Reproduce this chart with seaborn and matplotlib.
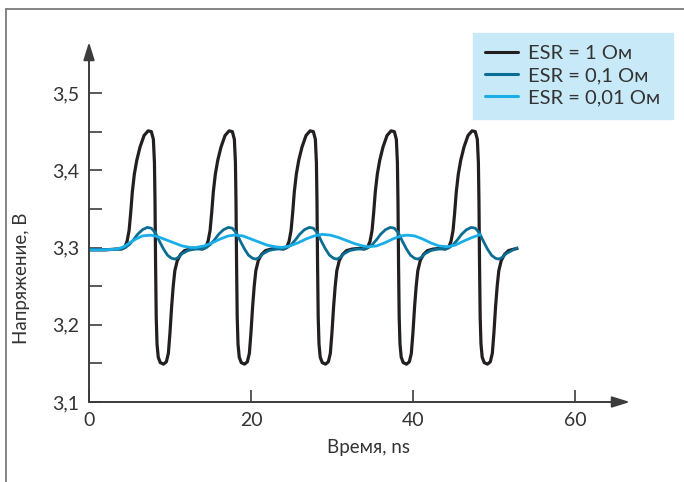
import numpy as np
import pandas as pd
import matplotlib
matplotlib.use("Agg")
import matplotlib.pyplot as plt
import seaborn as sns
from matplotlib.lines import Line2D

# ---------------- data ----------------
labels = ["ESR = 1 Ом", "ESR = 0,1 Ом", "ESR = 0,01 Ом"]
colors = ["#231f20", "#0a6d93", "#1aaee8"]

esr1_t = [0.0, 2.0, 3.5,
          4.0, 4.4, 4.7, 4.95, 5.15, 5.35, 5.6, 5.9, 6.3, 6.8, 7.3, 7.7, 7.95, 8.08, 8.15, 8.22, 8.3, 8.4,
          8.55, 8.8, 9.2, 9.55, 9.8, 10.0, 10.2, 10.4, 10.6, 10.9, 11.3, 11.8, 12.5, 13.5,
          14.0, 14.4, 14.7, 14.95, 15.15, 15.35, 15.6, 15.9, 16.3, 16.8, 17.3, 17.7, 17.95, 18.08, 18.15, 18.22, 18.3, 18.4,
          18.55, 18.8, 19.2, 19.55, 19.8, 20.0, 20.2, 20.4, 20.6, 20.9, 21.3, 21.8, 22.5, 23.5,
          24.0, 24.4, 24.7, 24.95, 25.15, 25.35, 25.6, 25.9, 26.3, 26.8, 27.3, 27.7, 27.95, 28.08, 28.15, 28.22, 28.3, 28.4,
          28.55, 28.8, 29.2, 29.55, 29.8, 30.0, 30.2, 30.4, 30.6, 30.9, 31.3, 31.8, 32.5, 33.5,
          34.0, 34.4, 34.7, 34.95, 35.15, 35.35, 35.6, 35.9, 36.3, 36.8, 37.3, 37.7, 37.95, 38.08, 38.15, 38.22, 38.3, 38.4,
          38.55, 38.8, 39.2, 39.55, 39.8, 40.0, 40.2, 40.4, 40.6, 40.9, 41.3, 41.8, 42.5, 43.5,
          44.0, 44.4, 44.7, 44.95, 45.15, 45.35, 45.6, 45.9, 46.3, 46.8, 47.3, 47.7, 47.95, 48.08, 48.15, 48.22, 48.3, 48.4,
          48.55, 48.8, 49.2, 49.55, 49.8, 50.0, 50.2, 50.4, 50.6, 50.9, 51.3, 51.8, 52.5, 53.0]
esr1_v = [3.297, 3.297, 3.298,
          3.298, 3.300, 3.308, 3.322, 3.345, 3.372, 3.395, 3.413, 3.430, 3.445, 3.451, 3.450, 3.440, 3.410, 3.360, 3.280, 3.210, 3.175,
          3.158, 3.151, 3.149, 3.152, 3.163, 3.190, 3.223, 3.250, 3.270, 3.283, 3.291, 3.296, 3.298, 3.299,
          3.298, 3.300, 3.308, 3.322, 3.345, 3.372, 3.395, 3.413, 3.430, 3.445, 3.451, 3.450, 3.440, 3.410, 3.360, 3.280, 3.210, 3.175,
          3.158, 3.151, 3.149, 3.152, 3.163, 3.190, 3.223, 3.250, 3.270, 3.283, 3.291, 3.296, 3.298, 3.299,
          3.298, 3.300, 3.308, 3.322, 3.345, 3.372, 3.395, 3.413, 3.430, 3.445, 3.451, 3.450, 3.440, 3.410, 3.360, 3.280, 3.210, 3.175,
          3.158, 3.151, 3.149, 3.152, 3.163, 3.190, 3.223, 3.250, 3.270, 3.283, 3.291, 3.296, 3.298, 3.299,
          3.298, 3.300, 3.308, 3.322, 3.345, 3.372, 3.395, 3.413, 3.430, 3.445, 3.451, 3.450, 3.440, 3.410, 3.360, 3.280, 3.210, 3.175,
          3.158, 3.151, 3.149, 3.152, 3.163, 3.190, 3.223, 3.250, 3.270, 3.283, 3.291, 3.296, 3.298, 3.299,
          3.298, 3.300, 3.308, 3.322, 3.345, 3.372, 3.395, 3.413, 3.430, 3.445, 3.451, 3.450, 3.440, 3.410, 3.360, 3.280, 3.210, 3.175,
          3.158, 3.151, 3.149, 3.152, 3.163, 3.190, 3.223, 3.250, 3.270, 3.283, 3.291, 3.296, 3.298, 3.299]

esr01_t = [0.0, 2.0, 3.5,
           4.0, 4.5, 5.0, 5.5, 6.0, 6.6, 7.2, 7.7, 8.2, 8.7, 9.2, 9.7, 10.2, 10.6, 11.0, 11.5, 12.2, 13.0,
           14.0, 14.5, 15.0, 15.5, 16.0, 16.6, 17.2, 17.7, 18.2, 18.7, 19.2, 19.7, 20.2, 20.6, 21.0, 21.5, 22.2, 23.0,
           24.0, 24.5, 25.0, 25.5, 26.0, 26.6, 27.2, 27.7, 28.2, 28.7, 29.2, 29.7, 30.2, 30.6, 31.0, 31.5, 32.2, 33.0,
           34.0, 34.5, 35.0, 35.5, 36.0, 36.6, 37.2, 37.7, 38.2, 38.7, 39.2, 39.7, 40.2, 40.6, 41.0, 41.5, 42.2, 43.0,
           44.0, 44.5, 45.0, 45.5, 46.0, 46.6, 47.2, 47.7, 48.2, 48.7, 49.2, 49.7, 50.2, 50.6, 51.0, 51.5, 52.2, 53.0]
esr01_v = [3.297, 3.297, 3.298,
           3.298, 3.300, 3.304, 3.310, 3.317, 3.323, 3.326, 3.325, 3.319, 3.308, 3.298, 3.290, 3.286, 3.285, 3.287, 3.292, 3.296, 3.298,
           3.298, 3.300, 3.304, 3.310, 3.317, 3.323, 3.326, 3.325, 3.319, 3.308, 3.298, 3.290, 3.286, 3.285, 3.287, 3.292, 3.296, 3.298,
           3.298, 3.300, 3.304, 3.310, 3.317, 3.323, 3.326, 3.325, 3.319, 3.308, 3.298, 3.290, 3.286, 3.285, 3.287, 3.292, 3.296, 3.298,
           3.298, 3.300, 3.304, 3.310, 3.317, 3.323, 3.326, 3.325, 3.319, 3.308, 3.298, 3.290, 3.286, 3.285, 3.287, 3.292, 3.296, 3.298,
           3.298, 3.300, 3.304, 3.310, 3.317, 3.323, 3.326, 3.325, 3.319, 3.308, 3.298, 3.290, 3.286, 3.285, 3.287, 3.292, 3.296, 3.300]

esr001_t = [0.0, 2.0, 3.5, 4.3, 5.0, 5.8, 6.6, 7.6, 8.5, 9.5, 10.5, 11.5, 12.5, 13.2,
            14.2, 15.2, 16.2, 17.2, 18.0, 19.0, 20.0, 21.0, 22.0, 23.0, 23.8,
            24.8, 25.8, 26.8, 27.8, 28.8, 29.8, 30.8, 31.8, 32.8, 33.8, 34.6,
            35.5, 36.5, 37.5, 38.5, 39.3, 40.2, 41.2, 42.2, 43.2, 44.2,
            45.2, 46.2, 47.3, 48.4]
esr001_v = [3.297, 3.297, 3.298, 3.301, 3.306, 3.311, 3.315, 3.316, 3.314, 3.310, 3.306, 3.302, 3.300, 3.300,
            3.302, 3.306, 3.311, 3.315, 3.316, 3.315, 3.311, 3.307, 3.303, 3.301, 3.300,
            3.302, 3.306, 3.311, 3.315, 3.317, 3.316, 3.313, 3.309, 3.305, 3.302, 3.301,
            3.302, 3.306, 3.311, 3.315, 3.316, 3.315, 3.311, 3.306, 3.302, 3.301,
            3.303, 3.308, 3.313, 3.317]

x_ticks = [0, 20, 40, 60]
x_tick_labels = ["0", "20", "40", "60"]
y_ticks = [3.1, 3.2, 3.3, 3.4, 3.5]
y_tick_labels = ["3,1", "3,2", "3,3", "3,4", "3,5"]
y_minor_ticks = [3.15, 3.25, 3.35, 3.45]
x_label = "Время, ns"
y_label = "Напряжение, В"

# ---------------- figure ----------------
sns.set_theme(style="white")
plt.rcParams["font.family"] = ["Lato", "DejaVu Sans"]

W, H = 684, 482
fig = plt.figure(figsize=(W / 100, H / 100), dpi=100)
fig.patch.set_facecolor("white")
ax = fig.add_axes([89 / W, 80 / H, 541 / W, 360 / H])
ax.set_facecolor("none")

df = pd.concat([
    pd.DataFrame({"t": esr1_t, "v": esr1_v, "series": labels[0]}),
    pd.DataFrame({"t": esr01_t, "v": esr01_v, "series": labels[1]}),
    pd.DataFrame({"t": esr001_t, "v": esr001_v, "series": labels[2]}),
], ignore_index=True)

sns.lineplot(data=df, x="t", y="v", hue="series", hue_order=labels,
             palette=colors, sort=False, estimator=None, ax=ax,
             linewidth=2.0, legend=False)
for ln, lw in zip(ax.lines, [2.3, 2.0, 2.0]):
    ln.set_linewidth(lw)
    ln.set_solid_capstyle("butt")
    ln.set_solid_joinstyle("round")

ax.set_xlim(0, 66.8)
ax.set_ylim(3.1, 3.1 + 360 / 772.5)
for s in ax.spines.values():
    s.set_visible(False)

axis_col = "#3c3c3c"
text_col = "#333333"
ax.set_xticks(x_ticks)
ax.set_xticklabels(x_tick_labels)
ax.set_yticks(y_ticks)
ax.set_yticklabels(y_tick_labels)
ax.set_yticks(y_minor_ticks, minor=True)
ax.tick_params(axis="both", which="both", direction="in", length=9, width=1.2,
               color=axis_col, bottom=True, left=True, top=False, right=False)
ax.tick_params(axis="both", which="major", labelsize=14, labelcolor=text_col, pad=7)
ax.set_xlabel("")
ax.set_ylabel("")
ax.grid(False)

# axis arrows
arrow_kw = dict(arrowstyle="-|>,head_length=0.9,head_width=0.28", color=axis_col,
                lw=1.4, shrinkA=0, shrinkB=0)
ax.annotate("", xy=(1, 0), xytext=(0, 0), xycoords="axes fraction",
            textcoords="axes fraction", arrowprops=arrow_kw, annotation_clip=False)
ax.annotate("", xy=(0, 1), xytext=(0, 0), xycoords="axes fraction",
            textcoords="axes fraction", arrowprops=arrow_kw, annotation_clip=False)

ax.text((368 - 89) / 541, -(447 - 402) / 360, x_label, transform=ax.transAxes,
        ha="center", va="center", fontsize=13.5, color=text_col)
ax.text((22 - 89) / 541, (402 - 278) / 360, y_label, transform=ax.transAxes,
        ha="center", va="center", rotation=90, fontsize=13.5, color=text_col)

# legend
handles = [Line2D([], [], color=c, lw=2.2) for c in colors]
leg = ax.legend(handles, labels, loc="upper left",
                bbox_to_anchor=(473 / W, 1 - 33 / H), bbox_transform=fig.transFigure,
                fontsize=14.5, frameon=True, fancybox=False, framealpha=1,
                facecolor="#c8e9f8", edgecolor="#c8e9f8", borderpad=0.6,
                handlelength=1.65, handletextpad=0.5, labelspacing=0.25,
                borderaxespad=0)
for t in leg.get_texts():
    t.set_color(text_col)

# outer frame lines (top and left)
frame_col = "#7a7a7a"
fig.add_artist(Line2D([6 / W, 1], [1 - 9 / H, 1 - 9 / H], transform=fig.transFigure,
                      color=frame_col, lw=1.3))
fig.add_artist(Line2D([6 / W, 6 / W], [0, 1 - 9 / H], transform=fig.transFigure,
                      color=frame_col, lw=1.3))

fig.savefig("out.png", dpi=100)
